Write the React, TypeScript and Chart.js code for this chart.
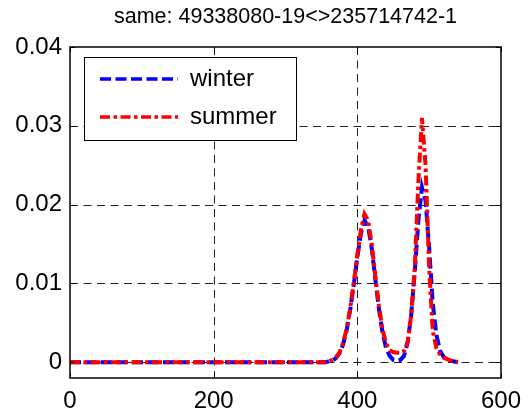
import { useEffect, useRef } from "react";
import { Chart, registerables } from "chart.js";

Chart.register(...registerables);

const chartTitle = "same: 49338080-19<>235714742-1";

// x positions of the density samples
const xValues = [
  0, 100, 200, 300, 350,
  355, 360, 365, 370, 375, 380, 385, 390, 395, 400, 405, 410, 415, 420, 425, 430,
  435, 440, 445, 450, 455, 460, 465, 470, 475, 480, 485, 490, 495, 500, 505, 510,
  515, 520, 525, 530, 535, 540,
];

const winterValues = [
  0, 0, 0, 0, 0,
  0, 0.0001, 0.0002, 0.0005, 0.0011, 0.0022, 0.004, 0.0066, 0.0098, 0.0133, 0.0163, 0.018, 0.0172, 0.0145, 0.0106, 0.0068,
  0.0038, 0.0018, 0.0008, 0.0003, 0.0002, 0.0003, 0.0008, 0.0025, 0.006, 0.0115, 0.018, 0.0222, 0.0205, 0.0145, 0.0075, 0.0035,
  0.0015, 0.0007, 0.0003, 0.0002, 0.0001, 0,
];

const summerValues = [
  0, 0, 0, 0, 0,
  0, 0.0001, 0.0003, 0.0006, 0.0012, 0.0024, 0.0042, 0.0068, 0.01, 0.0136, 0.0168, 0.0188, 0.018, 0.015, 0.011, 0.0072,
  0.0042, 0.0024, 0.0015, 0.0013, 0.0012, 0.0012, 0.0014, 0.0025, 0.006, 0.012, 0.023, 0.031, 0.025, 0.012, 0.004, 0.0018,
  0.001, 0.0006, 0.0004, 0.0002, 0.0001, 0,
];

const xTicks = [0, 200, 400, 600];
const xTickLabels = ["0", "200", "400", "600"];
const yTicks = [0, 0.01, 0.02, 0.03, 0.04];
const yTickLabels = ["0", "0.01", "0.02", "0.03", "0.04"];

const FONT = "'Liberation Sans', Arial, Helvetica, sans-serif";
const WINTER_DASH = [11, 4.5];
const SUMMER_DASH = [10, 3.5, 3.5, 3.5];

const framePlugin = {
  id: "matlabFrame",
  beforeDatasetsDraw(chart: any) {
    const { ctx, chartArea } = chart;
    const { left, right, top, bottom } = chartArea;
    const xs = chart.scales.x;
    const ys = chart.scales.y;
    ctx.save();
    ctx.strokeStyle = "#222";
    ctx.lineWidth = 1;
    ctx.setLineDash([8, 5.5]);
    xTicks.forEach((v) => {
      const px = Math.round(xs.getPixelForValue(v)) + 0.5;
      if (px <= left + 1 || px >= right - 1) return;
      ctx.beginPath();
      ctx.moveTo(px, top);
      ctx.lineTo(px, bottom);
      ctx.stroke();
    });
    yTicks.forEach((v) => {
      const py = Math.round(ys.getPixelForValue(v)) + 0.5;
      if (py <= top + 1 || py >= bottom - 1) return;
      ctx.beginPath();
      ctx.moveTo(left, py);
      ctx.lineTo(right, py);
      ctx.stroke();
    });
    ctx.restore();
  },
  afterDatasetsDraw(chart: any) {
    const { ctx, chartArea } = chart;
    const { left, right, top, bottom } = chartArea;
    const xs = chart.scales.x;
    const ys = chart.scales.y;
    ctx.save();
    ctx.setLineDash([]);
    ctx.strokeStyle = "#000";
    ctx.lineWidth = 1.5;
    ctx.strokeRect(left, top, right - left, bottom - top);

    // inward tick marks on all four sides
    ctx.lineWidth = 1;
    const tl = 5;
    xTicks.forEach((v) => {
      const px = Math.round(xs.getPixelForValue(v)) + 0.5;
      ctx.beginPath();
      ctx.moveTo(px, bottom);
      ctx.lineTo(px, bottom - tl);
      ctx.moveTo(px, top);
      ctx.lineTo(px, top + tl);
      ctx.stroke();
    });
    yTicks.forEach((v) => {
      const py = Math.round(ys.getPixelForValue(v)) + 0.5;
      ctx.beginPath();
      ctx.moveTo(left, py);
      ctx.lineTo(left + tl, py);
      ctx.moveTo(right, py);
      ctx.lineTo(right - tl, py);
      ctx.stroke();
    });

    // legend box
    const lx = left + 14;
    const ly = top + 10;
    const lw = 212;
    const lh = 83;
    ctx.fillStyle = "#fff";
    ctx.fillRect(lx, ly, lw, lh);
    ctx.strokeStyle = "#000";
    ctx.lineWidth = 1;
    ctx.strokeRect(lx + 0.5, ly + 0.5, lw, lh);

    const datasets = chart.data.datasets;
    const rows = [ly + 22, ly + 60];
    datasets.forEach((ds: any, i: number) => {
      const ry = rows[i];
      ctx.beginPath();
      ctx.setLineDash(ds.borderDash || []);
      ctx.strokeStyle = ds.borderColor;
      ctx.lineWidth = 3.5;
      ctx.moveTo(lx + 16, ry);
      ctx.lineTo(lx + 94, ry);
      ctx.stroke();
      ctx.setLineDash([]);
      ctx.fillStyle = "#000";
      ctx.font = `24px ${FONT}`;
      ctx.textAlign = "left";
      ctx.textBaseline = "middle";
      ctx.fillText(ds.label, lx + 106, ry);
    });

    // title
    ctx.fillStyle = "#000";
    ctx.font = `21.5px ${FONT}`;
    ctx.textAlign = "center";
    ctx.textBaseline = "middle";
    ctx.fillText(chartTitle, (left + right) / 2, 17);
    ctx.restore();
  },
};

export default function App() {
  const canvasRef = useRef<HTMLCanvasElement | null>(null);

  useEffect(() => {
    document.body.style.margin = "0";
    const canvas = canvasRef.current;
    if (!canvas) return;

    const chart = new Chart(canvas, {
      type: "line",
      data: {
        datasets: [
          {
            label: "winter",
            data: xValues.map((x, i) => ({ x, y: winterValues[i] })),
            borderColor: "#0000ff",
            borderWidth: 4,
            borderDash: WINTER_DASH,
            pointRadius: 0,
            tension: 0,
            fill: false,
            order: 2,
          },
          {
            label: "summer",
            data: xValues.map((x, i) => ({ x, y: summerValues[i] })),
            borderColor: "#ff0000",
            borderWidth: 4,
            borderDash: SUMMER_DASH,
            pointRadius: 0,
            tension: 0,
            fill: false,
            order: 1,
          },
        ],
      },
      options: {
        responsive: false,
        animation: false,
        devicePixelRatio: 1,
        layout: { padding: { top: 47, right: 26, left: 0, bottom: 0 } },
        plugins: {
          legend: { display: false },
          title: { display: false },
          tooltip: { enabled: false },
        },
        scales: {
          x: {
            type: "linear",
            min: 0,
            max: 600,
            grid: { display: false, drawTicks: false },
            border: { display: false },
            afterBuildTicks: (scale: any) => {
              scale.ticks = xTicks.map((v) => ({ value: v }));
            },
            afterFit: (scale: any) => {
              scale.height = 35;
            },
            ticks: {
              autoSkip: false,
              maxRotation: 0,
              padding: 9,
              color: "#000",
              font: { family: FONT, size: 24 },
              callback: (v: any) => xTickLabels[xTicks.indexOf(Number(v))],
            },
          },
          y: {
            type: "linear",
            min: -0.002,
            max: 0.04,
            grid: { display: false, drawTicks: false },
            border: { display: false },
            afterBuildTicks: (scale: any) => {
              scale.ticks = yTicks.map((v) => ({ value: v }));
            },
            afterFit: (scale: any) => {
              scale.width = 70;
            },
            ticks: {
              autoSkip: false,
              padding: 8,
              color: "#000",
              font: { family: FONT, size: 24 },
              callback: (v: any) => yTickLabels[yTicks.indexOf(Number(v))],
            },
          },
        },
      },
      plugins: [framePlugin],
    });

    return () => chart.destroy();
  }, []);

  return (
    <div style={{ width: 530, height: 413 }}>
      <canvas ref={canvasRef} width={530} height={413} />
    </div>
  );
}
